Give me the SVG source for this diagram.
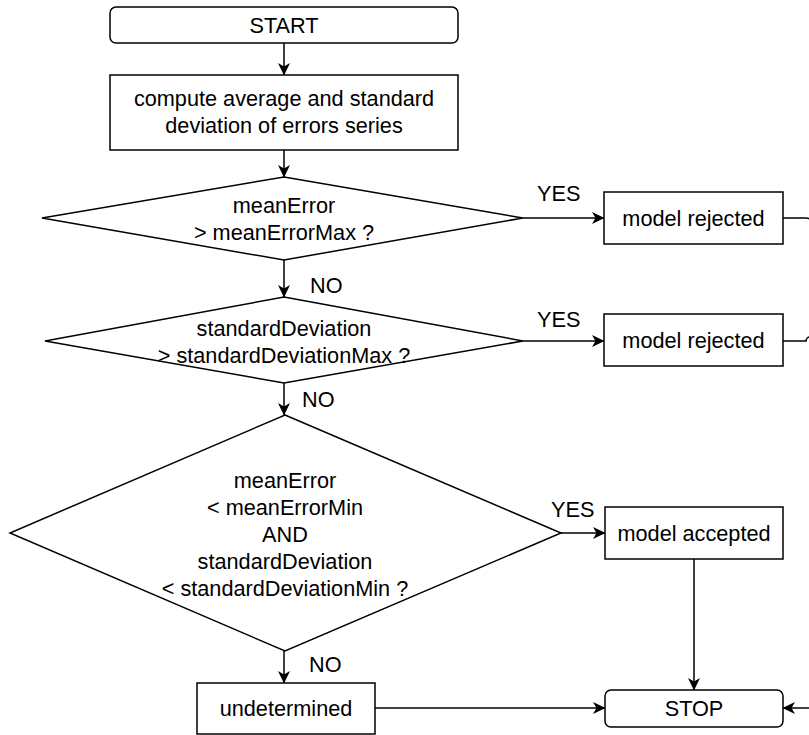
<svg xmlns="http://www.w3.org/2000/svg" width="809" height="735" viewBox="0 0 809 735">
  <style>
    .shape { fill: #ffffff; stroke: #000000; stroke-width: 1.5; }
    .edge { fill: none; stroke: #000000; stroke-width: 1.5; marker-end: url(#arrow); }
    .line { fill: none; stroke: #000000; stroke-width: 1.5; }
    text { font-family: "Liberation Sans", Arial, Helvetica, sans-serif; font-size: 21.7px; fill: #000000; }
    .c { text-anchor: middle; }
  </style>
  <defs>
    <marker id="arrow" markerUnits="userSpaceOnUse" markerWidth="13" markerHeight="12" viewBox="0 0 13 12" refX="12" refY="6" orient="auto">
      <path d="M0,0 L12.5,6 L0,12 L3.5,6 Z" fill="#000000"/>
    </marker>
  </defs>
  <rect width="809" height="735" fill="#ffffff"/>

  <g id="connectors">
    <path class="edge" d="M284,43 V75"/>
    <path class="edge" d="M284,150 V177"/>
    <path class="edge" d="M284,260 V297"/>
    <path class="edge" d="M284,383 V415"/>
    <path class="edge" d="M523,218 H604"/>
    <path class="edge" d="M523,341 H604"/>
    <path class="edge" d="M561,533 H605"/>
    <path class="edge" d="M284,651 V683"/>
    <path class="edge" d="M694,559 V690"/>
    <path class="edge" d="M375,708 H605"/>
    <!-- rejection branches run out along the right margin down to STOP -->
    <path class="edge" d="M783,218 H806 Q812,218 812,224 V702 Q812,708 818,708 H826"/>
    <path class="edge" d="M826,708 H783"/>
    <path class="line" d="M783,341 H806 A4,4 0 0 1 814,341 H822 V708"/>
    <text x="537" y="201">YES</text>
    <text x="537" y="327">YES</text>
    <text x="551" y="517">YES</text>
    <text x="310" y="293">NO</text>
    <text x="302" y="407">NO</text>
    <text x="309" y="672">NO</text>
  </g>

  <g id="start">
    <rect class="shape" x="110" y="7" width="348" height="36" rx="6"/>
    <text class="c" x="284" y="33">START</text>
  </g>

  <g id="compute">
    <rect class="shape" x="110" y="75" width="348" height="75"/>
    <text class="c" x="284" y="106">compute average and standard</text>
    <text class="c" x="284" y="133">deviation of errors series</text>
  </g>

  <g id="check-mean">
    <polygon class="shape" points="284,177 523,218 284,260 42,218"/>
    <text class="c" x="284" y="213">meanError</text>
    <text class="c" x="284" y="240">&gt; meanErrorMax ?</text>
  </g>

  <g id="check-deviation">
    <polygon class="shape" points="284,297 523,341 284,383 45,341"/>
    <text class="c" x="284" y="336">standardDeviation</text>
    <text class="c" x="284" y="363">&gt; standardDeviationMax ?</text>
  </g>

  <g id="check-accept">
    <polygon class="shape" points="285,415 561,533 285,651 10,533"/>
    <text class="c" x="285" y="488">meanError</text>
    <text class="c" x="285" y="515">&lt; meanErrorMin</text>
    <text class="c" x="285" y="542">AND</text>
    <text class="c" x="285" y="569">standardDeviation</text>
    <text class="c" x="285" y="596">&lt; standardDeviationMin ?</text>
  </g>

  <g id="rejected-mean">
    <rect class="shape" x="604" y="192" width="179" height="52"/>
    <text class="c" x="693.5" y="226">model rejected</text>
  </g>

  <g id="rejected-deviation">
    <rect class="shape" x="604" y="314" width="179" height="52"/>
    <text class="c" x="693.5" y="348">model rejected</text>
  </g>

  <g id="accepted">
    <rect class="shape" x="605" y="507" width="178" height="52"/>
    <text class="c" x="694" y="541">model accepted</text>
  </g>

  <g id="undetermined">
    <rect class="shape" x="197" y="683" width="178" height="51"/>
    <text class="c" x="286" y="716">undetermined</text>
  </g>

  <g id="stop">
    <rect class="shape" x="605" y="690" width="178" height="37" rx="6"/>
    <text class="c" x="694" y="716">STOP</text>
  </g>
</svg>
